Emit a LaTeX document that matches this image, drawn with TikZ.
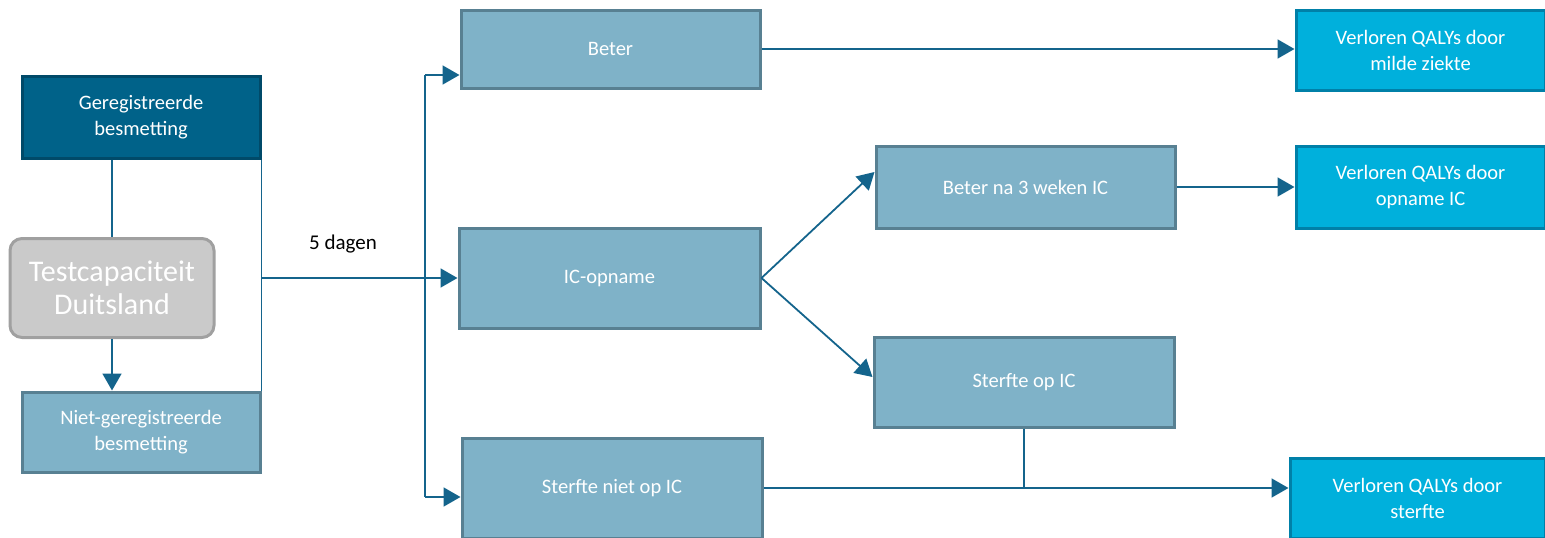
\documentclass[tikz,border=0pt]{standalone}
\usepackage{fontspec}
\setmainfont{Carlito}
\usepackage{xcolor}
\usepackage{tikz}
\usetikzlibrary{positioning,shapes,arrows.meta,calc}

\definecolor{darkbox}{RGB}{0,98,137}
\definecolor{darkline}{RGB}{0,74,105}
\definecolor{midbox}{RGB}{127,178,200}
\definecolor{midline}{RGB}{88,128,146}
\definecolor{cyanbox}{RGB}{0,176,220}
\definecolor{cyanline}{RGB}{0,128,168}
\definecolor{greybox}{RGB}{202,202,202}
\definecolor{greyline}{RGB}{160,160,160}
\definecolor{conn}{RGB}{20,100,140}

\begin{document}
\begin{tikzpicture}[x=1pt,y=-1pt,
		box/.style={draw=midline, line width=3pt, fill=midbox, text=white, align=center,
			font=\fontsize{20.5}{26}\selectfont, inner sep=0pt},
		regbox/.style={box, draw=darkline, fill=darkbox},
		qalybox/.style={box, draw=cyanline, fill=cyanbox},
		capbox/.style={box, draw=greyline, fill=greybox, rounded corners=12pt,
			font=\fontsize{30}{33}\selectfont},
		line/.style={draw=conn, line width=1.8pt},
		arr/.style={line, -{Triangle[length=17pt,width=19pt]}}]
		\useasboundingbox (0,0) rectangle (1545,538);
		\node[regbox, minimum width=238pt, minimum height=82pt] (ger) at (141,117) {Geregistreerde\\besmetting};
		\node[capbox, minimum width=204pt, minimum height=99pt] (test) at (112,288) {Testcapaciteit\\Duitsland};
		\node[box, minimum width=238pt, minimum height=80pt] (niet) at (141,432) {Niet-geregistreerde\\besmetting};
		\node[box, minimum width=299pt, minimum height=78pt] (beter) at (610.5,49) {Beter};
		\node[box, minimum width=301pt, minimum height=100pt] (icop) at (609.5,278) {IC-opname};
		\node[box, minimum width=300pt, minimum height=100pt] (sterfteniet) at (612,488) {Sterfte niet op IC};
		\node[box, minimum width=299pt, minimum height=82pt] (beteric) at (1025.5,187) {Beter na 3 weken IC};
		\node[box, minimum width=300pt, minimum height=90pt] (sterfteic) at (1024,382) {Sterfte op IC};
		\node[qalybox, minimum width=249pt, minimum height=80pt] (qmild) at (1420.5,50) {Verloren QALYs door\\milde ziekte};
		\node[qalybox, minimum width=249pt, minimum height=82pt] (qic) at (1420.5,187) {Verloren QALYs door\\opname IC};
		\node[qalybox, minimum width=255pt, minimum height=80pt] (qdood) at (1417.5,498) {Verloren QALYs door\\sterfte};
		\node[font=\fontsize{21}{26}\selectfont] (dagen) at (343,244) {5 dagen};

		\draw[line] (ger.south -| test.north) -- (test.north);
		\draw[arr] (test.south) -- (niet.north -| test.south);
		\draw[line] (ger.south east) -- (niet.north east);
		\coordinate (tbeter) at (425,75);
		\coordinate (tdood) at (425,497);
		\draw[arr] (ger.south east |- icop.west) -- (icop.west);
		\draw[line] (tbeter) -- (tdood);
		\draw[arr] (tbeter) -- (tbeter -| beter.west);
		\draw[arr] (tdood) -- (tdood -| sterfteniet.west);
		\draw[arr] (beter.east) -- (beter.east -| qmild.west);
		\draw[arr] (icop.east) -- ([yshift=15pt]beteric.west);
		\draw[arr] (icop.east) -- ([yshift=5pt]sterfteic.west);
		\draw[arr] (beteric.east) -- (qic.west);
		\draw[line] (sterfteic.south) -- (sterfteic.south |- sterfteniet.east);
		\draw[arr] (sterfteniet.east) -- (sterfteniet.east -| qdood.west);
	\end{tikzpicture}
\end{document}
